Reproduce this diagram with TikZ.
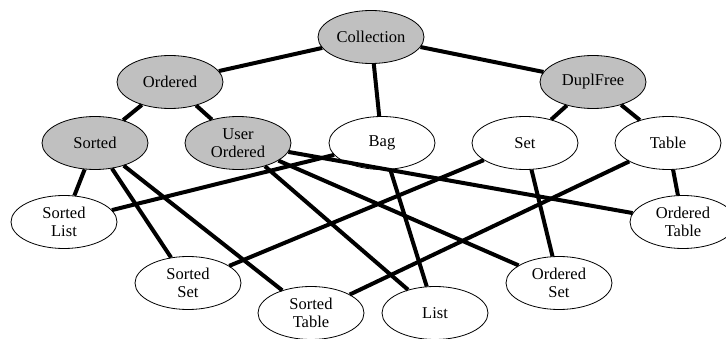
\documentclass[tikz,border=0pt]{standalone}
\usepackage{fontspec}
\setmainfont{Liberation Serif}
\usetikzlibrary{shapes.geometric}
\definecolor{nodegray}{RGB}{192,192,192}
\begin{document}
\begin{tikzpicture}[x=1pt,y=-1pt,
  cls/.style={ellipse,draw=black,line width=0.8pt,minimum width=106pt,minimum height=53pt,inner sep=0pt,align=center,font=\fontsize{16.5}{18.5}\selectfont},
  abs/.style={cls,fill=nodegray},
  con/.style={cls,fill=white},
  edge/.style={line width=4pt}]
\useasboundingbox (0,0) rectangle (726,339);
\node[abs] (coll) at (371,37) {Collection};
\node[abs] (ord) at (170,82) {Ordered};
\node[abs] (dup) at (593,82) {DuplFree};
\node[abs] (sorted) at (95,143) {Sorted};
\node[abs] (user) at (238,143) {User\\Ordered};
\node[con] (bag) at (382,143) {Bag};
\node[con] (set) at (525,143) {Set};
\node[con] (table) at (668,143) {Table};
\node[con] (slist) at (64,222) {Sorted\\List};
\node[con] (otable) at (683,222) {Ordered\\Table};
\node[con] (sset) at (188,283) {Sorted\\Set};
\node[con] (oset) at (559,283) {Ordered\\Set};
\node[con] (stable) at (311,313) {Sorted\\Table};
\node[con] (list) at (435,313) {List};
\draw[edge] (coll) -- (ord);
\draw[edge] (coll) -- (dup);
\draw[edge] (coll) -- (bag);
\draw[edge] (ord) -- (sorted);
\draw[edge] (ord) -- (user);
\draw[edge] (dup) -- (set);
\draw[edge] (dup) -- (table);
\draw[edge] (sorted) -- (slist);
\draw[edge] (sorted) -- (sset);
\draw[edge] (sorted) -- (stable);
\draw[edge] (user) -- (list);
\draw[edge] (user) -- (oset);
\draw[edge] (user) -- (otable);
\draw[edge] (bag) -- (slist);
\draw[edge] (bag) -- (list);
\draw[edge] (set) -- (sset);
\draw[edge] (set) -- (oset);
\draw[edge] (table) -- (stable);
\draw[edge] (table) -- (otable);
\end{tikzpicture}
\end{document}
